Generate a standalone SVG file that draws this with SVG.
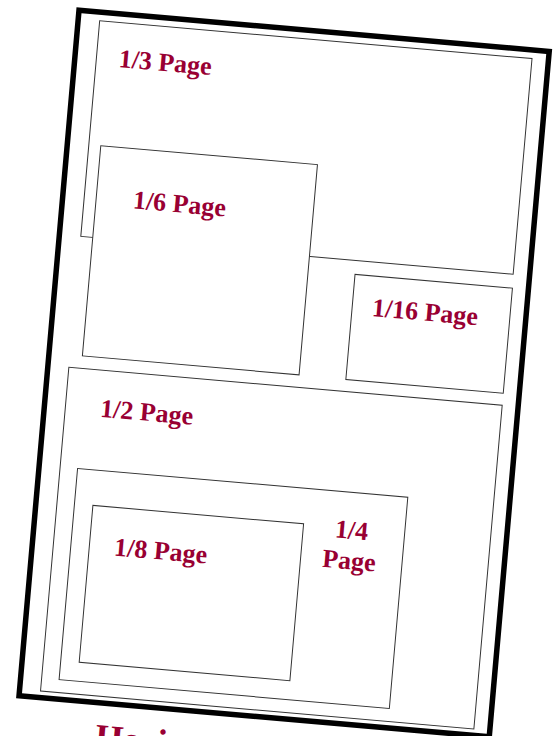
<svg xmlns="http://www.w3.org/2000/svg" width="557" height="736" viewBox="0 0 557 736">
  <style>
    .frame { fill: #ffffff; stroke: #000000; stroke-width: 5.5; }
    .box { fill: #ffffff; stroke: #333333; stroke-width: 1; }
    .lbl { font-family: "Liberation Serif", "Times New Roman", serif; font-weight: bold; font-size: 26px; fill: #990033; }
    .title { font-family: "Liberation Serif", "Times New Roman", serif; font-weight: bold; font-size: 36px; fill: #990033; }
  </style>
  <rect width="557" height="736" fill="#ffffff"/>
  <g transform="translate(79,10.3) rotate(5)">
    <g id="page">
      <rect class="frame" x="0" y="0" width="472" height="688"/>
    </g>
    <g id="third">
      <rect class="box" x="21.5" y="8.6" width="434" height="216.5"/>
      <text class="lbl" x="44" y="53">1/3 Page</text>
    </g>
    <g id="sixth">
      <rect class="box" x="33.5" y="133" width="217.5" height="211"/>
      <text class="lbl" x="70.5" y="192.6">1/6 Page</text>
    </g>
    <g id="sixteenth">
      <rect class="box" x="298" y="239" width="158" height="105.5"/>
      <text class="lbl" x="318" y="279">1/16 Page</text>
    </g>
    <g id="half">
      <rect class="box" x="21" y="356.5" width="435" height="325"/>
      <text class="lbl" x="56" y="403">1/2 Page</text>
    </g>
    <g id="quarter">
      <rect class="box" x="38.5" y="456.5" width="331.5" height="212"/>
      <text class="lbl" x="317" y="502.7" text-anchor="middle">1/4</text>
      <text class="lbl" x="317" y="533.2" text-anchor="middle">Page</text>
    </g>
    <g id="eighth">
      <rect class="box" x="57" y="492" width="211.5" height="157.5"/>
      <text class="lbl" x="82" y="540">1/8 Page</text>
    </g>
    <g id="title">
      <text class="title" x="79.5" y="734">Horizontal</text>
    </g>
  </g>
</svg>
